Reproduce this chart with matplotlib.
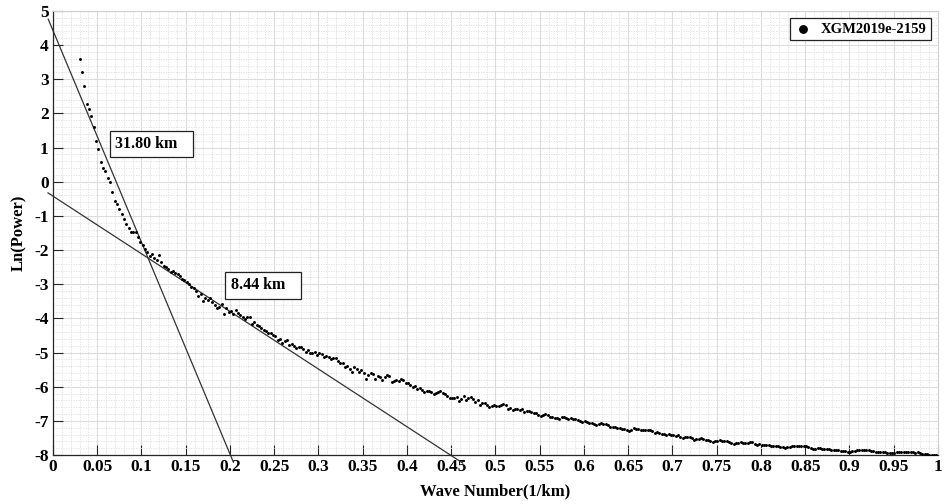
import numpy as np
import matplotlib
matplotlib.use('Agg')
import matplotlib.pyplot as plt
from matplotlib.patches import Rectangle
from matplotlib.ticker import MultipleLocator, FormatStrFormatter

plt.rcParams['font.family'] = ['Liberation Serif', 'DejaVu Serif']
plt.rcParams['font.weight'] = 'bold'

# radial spectrum: wave number grid (1/km) and Ln(Power)
k_first = 0.0303
k_last = 0.998
ln_power = [
    3.59, 3.20, 2.81, 2.28, 2.12, 1.93, 1.61, 1.20, 0.96, 0.59,
    0.41, 0.32, 0.12, -0.02, -0.29, -0.56, -0.66, -0.80, -0.94, -1.09,
    -1.24, -1.36, -1.46, -1.46, -1.48, -1.61, -1.76, -1.85, -1.97, -2.05,
    -2.17, -2.12, -2.24, -2.30, -2.13, -2.36, -2.46, -2.49, -2.55, -2.63,
    -2.60, -2.68, -2.71, -2.76, -2.85, -2.88, -2.94, -2.98, -3.07, -3.10,
    -3.19, -3.34, -3.28, -3.49, -3.41, -3.45, -3.39, -3.52, -3.61, -3.71,
    -3.66, -3.58, -3.88, -3.70, -3.82, -3.78, -3.86, -3.75, -3.84, -3.90,
    -3.95, -4.03, -3.97, -3.95, -4.15, -4.10, -4.19, -4.22, -4.28, -4.34,
    -4.38, -4.44, -4.42, -4.49, -4.53, -4.63, -4.60, -4.73, -4.66, -4.63,
    -4.78, -4.74, -4.82, -4.88, -4.84, -4.83, -4.90, -4.98, -4.93, -5.02,
    -5.02, -4.99, -5.06, -5.02, -5.05, -5.12, -5.09, -5.14, -5.20, -5.17,
    -5.17, -5.26, -5.32, -5.30, -5.42, -5.38, -5.47, -5.56, -5.42, -5.48,
    -5.56, -5.52, -5.61, -5.76, -5.66, -5.61, -5.64, -5.76, -5.70, -5.71,
    -5.81, -5.73, -5.66, -5.70, -5.86, -5.82, -5.81, -5.84, -5.78, -5.79,
    -5.90, -5.88, -5.96, -6.02, -5.99, -6.08, -6.04, -6.10, -6.15, -6.12,
    -6.12, -6.15, -6.20, -6.18, -6.15, -6.13, -6.18, -6.22, -6.28, -6.32,
    -6.32, -6.34, -6.30, -6.41, -6.36, -6.27, -6.39, -6.33, -6.31, -6.36,
    -6.44, -6.40, -6.54, -6.49, -6.47, -6.55, -6.59, -6.57, -6.55, -6.57,
    -6.57, -6.53, -6.51, -6.55, -6.66, -6.63, -6.68, -6.65, -6.66, -6.68,
    -6.66, -6.73, -6.70, -6.71, -6.74, -6.78, -6.76, -6.82, -6.86, -6.83,
    -6.80, -6.82, -6.90, -6.88, -6.93, -6.92, -6.96, -6.90, -6.90, -6.93,
    -6.96, -6.93, -6.95, -6.95, -6.98, -7.00, -7.03, -7.01, -7.04, -7.06,
    -7.06, -7.09, -7.12, -7.10, -7.07, -7.08, -7.10, -7.13, -7.17, -7.18,
    -7.19, -7.22, -7.21, -7.25, -7.24, -7.28, -7.30, -7.26, -7.22, -7.24,
    -7.25, -7.27, -7.26, -7.27, -7.28, -7.27, -7.30, -7.35, -7.33, -7.37,
    -7.39, -7.38, -7.40, -7.39, -7.41, -7.42, -7.44, -7.42, -7.47, -7.49,
    -7.48, -7.46, -7.47, -7.50, -7.56, -7.54, -7.52, -7.51, -7.53, -7.56,
    -7.56, -7.58, -7.61, -7.60, -7.58, -7.57, -7.59, -7.60, -7.59, -7.62,
    -7.66, -7.68, -7.65, -7.64, -7.63, -7.64, -7.65, -7.64, -7.63, -7.63,
    -7.68, -7.72, -7.69, -7.70, -7.70, -7.71, -7.72, -7.73, -7.73, -7.74,
    -7.75, -7.76, -7.77, -7.79, -7.78, -7.76, -7.74, -7.75, -7.74, -7.73,
    -7.73, -7.74, -7.75, -7.76, -7.79, -7.82, -7.81, -7.80, -7.80, -7.82,
    -7.83, -7.82, -7.83, -7.84, -7.85, -7.84, -7.86, -7.88, -7.87, -7.89,
    -7.91, -7.90, -7.88, -7.87, -7.85, -7.84, -7.84, -7.85, -7.85, -7.86,
    -7.88, -7.89, -7.91, -7.90, -7.91, -7.92, -7.91, -7.95, -7.94, -7.93,
    -7.93, -7.92, -7.91, -7.91, -7.90, -7.91, -7.91, -7.92, -7.92, -7.93,
    -7.92, -7.95, -7.96, -7.97, -7.98, -7.99, -7.99, -8.00, -8.00,
]
wave_number = np.linspace(k_first, k_last, len(ln_power))

# the two straight-line fits (deep and shallow source)
fit_labels = ['31.80 km', '8.44 km']
fit_intercepts = [4.43, -0.42]
fit_slopes = [-62.0, -16.88]
fit_x_start = [-0.0053, -0.0056]
fit_x_end = [0.2037, 0.463]

fig = plt.figure(figsize=(9.44, 5.04), dpi=100)
ax = fig.add_axes([0.0561, 0.0972, 0.9375, 0.8810])

ax.scatter(wave_number, ln_power, s=4.5, color='black', linewidths=0,
           label='XGM2019e-2159', zorder=3)

for a, b, x0, x1 in zip(fit_intercepts, fit_slopes, fit_x_start, fit_x_end):
    xs = np.array([x0, x1])
    ax.plot(xs, a + b * xs, color='#333333', lw=0.9, clip_on=False, zorder=2)

# labelled boxes
boxes = [(0.0644, 0.72, 0.094, 0.77), (0.194, -3.43, 0.086, 0.79)]
text_pos = [(0.070, 1.10), (0.201, -3.03)]
for lab, (bx, by, bw, bh), (tx, ty) in zip(fit_labels, boxes, text_pos):
    ax.add_patch(Rectangle((bx, by), bw, bh, facecolor='white',
                           edgecolor='#222222', lw=0.9, zorder=4))
    ax.text(tx, ty, lab, fontsize=11.5, fontweight='bold', va='center',
            ha='left', zorder=5)

ax.set_xlim(0, 1)
ax.set_ylim(-8, 5)
ax.xaxis.set_major_locator(MultipleLocator(0.05))
ax.xaxis.set_minor_locator(MultipleLocator(0.01))
ax.yaxis.set_major_locator(MultipleLocator(1))
ax.yaxis.set_minor_locator(MultipleLocator(0.2))
ax.xaxis.set_major_formatter(FormatStrFormatter('%g'))
ax.yaxis.set_major_formatter(FormatStrFormatter('%g'))

ax.grid(which='major', color='#dcdcdc', lw=0.8, ls='-')
ax.grid(which='minor', color='#dedede', lw=0.6, ls=(0, (1.5, 1.5)))
ax.set_axisbelow(True)

ax.tick_params(which='major', direction='in', length=7, width=0.8,
               labelsize=12.5, top=False, right=False, color='#262626', pad=3)
ax.tick_params(which='minor', length=0)
for lab in ax.get_xticklabels() + ax.get_yticklabels():
    lab.set_fontweight('bold')
for side in ['left', 'bottom']:
    ax.spines[side].set_color('#262626')
    ax.spines[side].set_linewidth(0.9)
for side in ['top', 'right']:
    ax.spines[side].set_color('#d0d0d0')
    ax.spines[side].set_linewidth(0.8)

ax.set_xlabel('Wave Number(1/km)', fontsize=12, fontweight='bold', labelpad=6)
ax.set_ylabel('Ln(Power)', fontsize=12, fontweight='bold', labelpad=5)

leg = ax.legend(loc='upper right', markerscale=3.0, fontsize=10.5,
                frameon=True, fancybox=False, borderpad=0.3,
                handletextpad=0.6, borderaxespad=0.5, handlelength=1.2)
leg.get_frame().set_edgecolor('#222222')
leg.get_frame().set_linewidth(0.9)
leg.get_frame().set_alpha(1)
for t in leg.get_texts():
    t.set_fontweight('bold')

fig.savefig('out.png', dpi=100)
